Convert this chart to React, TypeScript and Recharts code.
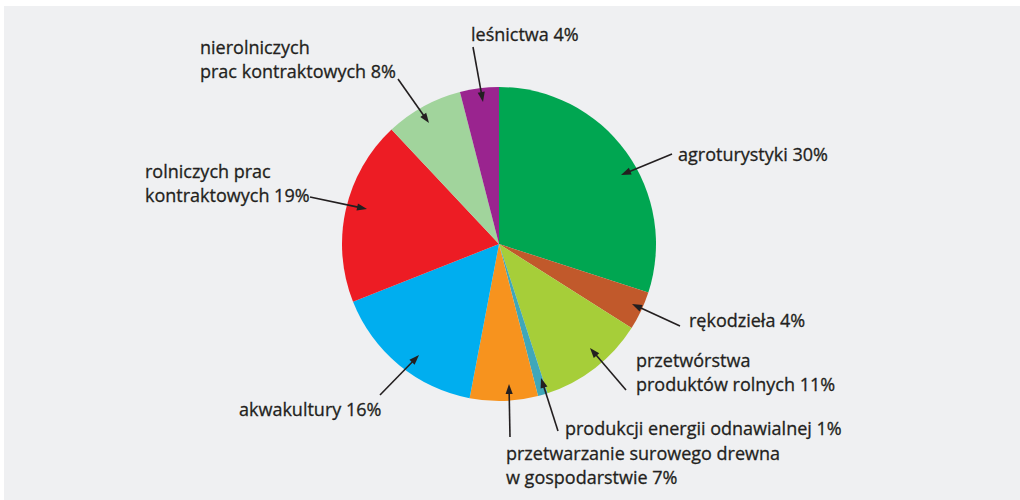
import React from "react";
import { PieChart, Pie, Cell } from "recharts";

const categories = [
  "agroturystyki",
  "rękodzieła",
  "przetwórstwa produktów rolnych",
  "produkcji energii odnawialnej",
  "przetwarzanie surowego drewna w gospodarstwie",
  "akwakultury",
  "rolniczych prac kontraktowych",
  "nierolniczych prac kontraktowych",
  "leśnictwa",
];
const shares = [30, 4, 11, 1, 7, 16, 19, 8, 4];
const colors = [
  "#00A651",
  "#C1592B",
  "#A6CE39",
  "#3FA7B9",
  "#F7931E",
  "#00AEEF",
  "#ED1C24",
  "#A1D49C",
  "#9A248F",
];
// label text split into lines (the last line gets the percentage)
const labelLines = [
  ["agroturystyki"],
  ["rękodzieła"],
  ["przetwórstwa", "produktów rolnych"],
  ["produkcji energii odnawialnej"],
  ["przetwarzanie surowego drewna", "w gospodarstwie"],
  ["akwakultury"],
  ["rolniczych prac", "kontraktowych"],
  ["nierolniczych", "prac kontraktowych"],
  ["leśnictwa"],
];

const data = categories.map((name, i) => ({ name, value: shares[i] }));

const CX = 499;
const CY = 244;
const R = 157;
const LINE_H = 24;
const TEXT_COLOR = "#231F20";

// annotation layout, relative to pie centre: text anchor, arrow start, arrow tip
const layout = [
  { t: [179, -83], s: [173, -90], e: [122, -69] },
  { t: [190, 83], s: [181, 82], e: [133, 60] },
  { t: [137, 123], s: [127, 146], e: [91, 104] },
  { t: [66, 191], s: [59, 187], e: [42, 134] },
  { t: [7, 216], s: [11, 193], e: [10, 140] },
  { t: [-260, 172], s: [-119, 151], e: [-80, 111] },
  { t: [-354, -66], s: [-189, -47], e: [-132, -35] },
  { t: [-299, -190], s: [-101, -165], e: [-70, -121] },
  { t: [-28, -203], s: [-26, -197], e: [-16, -142] },
];

const renderLabel = (props: any) => {
  const i = props.index;
  const cx = typeof props.cx === "number" ? props.cx : CX;
  const cy = typeof props.cy === "number" ? props.cy : CY;
  const L = layout[i];
  const sx = cx + L.s[0];
  const sy = cy + L.s[1];
  const ex = cx + L.e[0];
  const ey = cy + L.e[1];
  const dx = ex - sx;
  const dy = ey - sy;
  const len = Math.sqrt(dx * dx + dy * dy);
  const ux = dx / len;
  const uy = dy / len;
  const headL = 10;
  const headW = 3.6;
  const bx = ex - ux * headL;
  const by = ey - uy * headL;
  const p1 = `${ex},${ey}`;
  const p2 = `${bx - uy * headW},${by + ux * headW}`;
  const p3 = `${bx + uy * headW},${by - ux * headW}`;
  const lines = labelLines[i].slice();
  lines[lines.length - 1] = `${lines[lines.length - 1]} ${shares[i]}%`;
  return (
    <g key={`lab-${i}`}>
      <line x1={sx} y1={sy} x2={bx + ux * 2} y2={by + uy * 2} stroke={TEXT_COLOR} strokeWidth={1.6} />
      <polygon points={`${p1} ${p2} ${p3}`} fill={TEXT_COLOR} />
      <text
        x={cx + L.t[0]}
        y={cy + L.t[1]}
        fill={TEXT_COLOR}
        stroke={TEXT_COLOR}
        strokeWidth={0.3}
        fontFamily="'Open Sans', sans-serif"
        fontSize={18}
        textAnchor="start"
      >
        {lines.map((ln, k) => (
          <tspan key={k} x={cx + L.t[0]} dy={k === 0 ? 0 : LINE_H}>
            {ln}
          </tspan>
        ))}
      </text>
    </g>
  );
};

export default function App() {
  return (
    <div
      style={{
        position: "absolute",
        left: 0,
        top: 0,
        width: 1020,
        height: 500,
        background: "#FFFFFF",
        overflow: "hidden",
      }}
    >
      <div
        style={{
          position: "absolute",
          left: 4,
          top: 6,
          width: 1016,
          height: 494,
          background: "#EFF0F2",
        }}
      />
      <div style={{ position: "absolute", left: 0, top: 0 }}>
        <PieChart width={1020} height={500} margin={{ top: 0, right: 0, bottom: 0, left: 0 }}>
          <Pie
            data={data}
            dataKey="value"
            nameKey="name"
            cx={CX}
            cy={CY}
            outerRadius={R}
            startAngle={90}
            endAngle={-270}
            stroke="none"
            isAnimationActive={false}
            labelLine={false}
            label={renderLabel}
          >
            {data.map((d, i) => (
              <Cell key={d.name} fill={colors[i]} />
            ))}
          </Pie>
        </PieChart>
      </div>
    </div>
  );
}
